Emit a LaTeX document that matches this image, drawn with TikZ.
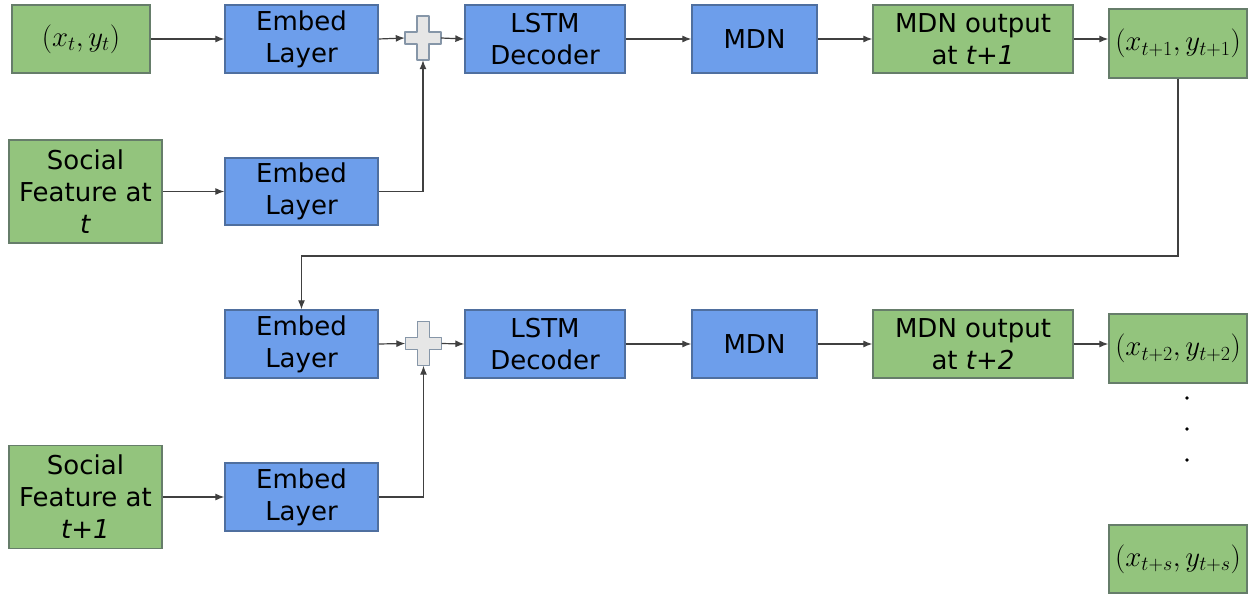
\documentclass[tikz,border=0pt]{standalone}
\usepackage{graphicx}
\usepackage{fontspec}
\setmainfont{DejaVu Sans}
\usetikzlibrary{arrows.meta}
\definecolor{gfill}{HTML}{93C47D}
\definecolor{gline}{HTML}{667D6A}
\definecolor{bfill}{HTML}{6D9EEB}
\definecolor{bline}{HTML}{4F6F9F}
\definecolor{pfill}{HTML}{E6E6E6}
\definecolor{pline}{HTML}{8696A8}
\definecolor{wire}{HTML}{404040}
\tikzset{
  x=1pt, y=-1pt,
  box/.style={draw, line width=1.3pt, inner sep=0pt, align=center,
    font=\fontsize{26}{32}\selectfont},
  gbox/.style={box, fill=gfill, draw=gline},
  bbox/.style={box, fill=bfill, draw=bline},
  plusspot/.style={inner sep=0pt, minimum width=36pt, minimum height=44pt},
  plusshape/.style={fill=pfill, draw=pline, line width=1.2pt, line join=round},
  conn/.style={draw=wire, line width=1.2pt, -{Latex[length=9pt,width=7pt]}},
}
% enlarged formula for the coordinate boxes
\newcommand\bigmath[1]{\scalebox{1.16}{$#1$}}
\newcommand\crossat[1]{%
  \draw[plusshape, shift={(#1.center)}] (-18,-6) -- (-6,-6) -- (-6,-22) -- (6,-22)
    -- (6,-6) -- (18,-6) -- (18,6) -- (6,6) -- (6,22) -- (-6,22) -- (-6,6)
    -- (-18,6) -- cycle;}
\begin{document}
\begin{tikzpicture}
\useasboundingbox (0,0) rectangle (1249,599);

% first step
\node[gbox, minimum width=138pt, minimum height=68pt] (xy0) at (81,39) {\bigmath{(x_t, y_t)}};
\node[bbox, minimum width=153pt, minimum height=68pt] (emb1) at (301.5,39) {Embed\\Layer};
\node[plusspot] (plus1) at (423,38) {};
\node[bbox, minimum width=160pt, minimum height=68pt] (lstm1) at (545,39) {LSTM\\Decoder};
\node[bbox, minimum width=125pt, minimum height=68pt] (mdn1) at (754.5,39) {MDN};
\node[gbox, minimum width=200pt, minimum height=68pt] (out1) at (973,39) {MDN output\\at \textit{t+1}};
\node[gbox, minimum width=138pt, minimum height=69pt] (xy1) at (1178,43.5) {\bigmath{(x_{t+1}, y_{t+1})}};
\node[gbox, minimum width=153pt, minimum height=103pt] (soc1) at (85.5,191.5) {Social\\Feature at\\\textit{t}};
\node[bbox, minimum width=153pt, minimum height=67pt] (emb2) at (301.5,191.5) {Embed\\Layer};

% second step
\node[bbox, minimum width=153pt, minimum height=68pt] (emb3) at (301.5,344) {Embed\\Layer};
\node[plusspot] (plus2) at (423.5,343.5) {};
\node[bbox, minimum width=160pt, minimum height=68pt] (lstm2) at (545,344) {LSTM\\Decoder};
\node[bbox, minimum width=125pt, minimum height=68pt] (mdn2) at (754.5,344) {MDN};
\node[gbox, minimum width=200pt, minimum height=68pt] (out2) at (973,344) {MDN output\\at \textit{t+2}};
\node[gbox, minimum width=138pt, minimum height=69pt] (xy2) at (1178,348.5) {\bigmath{(x_{t+2}, y_{t+2})}};
\node[gbox, minimum width=153pt, minimum height=103pt] (soc2) at (85.5,497) {Social\\Feature at\\\textit{t+1}};
\node[bbox, minimum width=153pt, minimum height=68pt] (emb4) at (301.5,497) {Embed\\Layer};

% remaining steps
\foreach \yy in {398,429,460} \fill[black] (1187,\yy) circle (1.8pt);
\node[gbox, minimum width=138pt, minimum height=68pt] (xys) at (1178,559) {\bigmath{(x_{t+s}, y_{t+s})}};

\crossat{plus1}
\crossat{plus2}

% connectors, first step
\draw[conn] (xy0.east) -- (emb1.west);
\draw[conn] (emb1.east) -- (plus1.west);
\draw[conn] (plus1.east) -- (lstm1.west);
\draw[conn] (lstm1.east) -- (mdn1.west);
\draw[conn] (mdn1.east) -- (out1.west);
\draw[conn] (out1.east) -- (out1.east -| xy1.west);
\draw[conn] (soc1.east) -- (emb2.west);
\draw[conn] (emb2.east) -| (plus1.south);

% feedback into the second step
\coordinate (fb) at (301.5,256);
\draw[conn] (xy1.south) |- (fb) -- (emb3.north);

% connectors, second step
\draw[conn] (emb3.east) -- (plus2.west);
\draw[conn] (plus2.east) -- (lstm2.west);
\draw[conn] (lstm2.east) -- (mdn2.west);
\draw[conn] (mdn2.east) -- (out2.west);
\draw[conn] (out2.east) -- (out2.east -| xy2.west);
\draw[conn] (soc2.east) -- (emb4.west);
\draw[conn] (emb4.east) -| (plus2.south);
\end{tikzpicture}
\end{document}
